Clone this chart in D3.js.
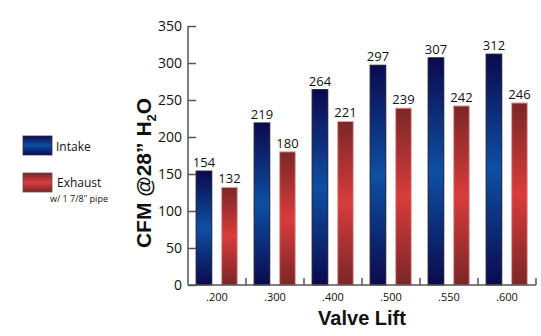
<!DOCTYPE html>
<html>
<head>
<meta charset="utf-8">
<script src="https://cdn.jsdelivr.net/npm/d3@7"></script>
<style>
  body { margin: 0; background: #fff; }
  svg { display: block; }
</style>
</head>
<body>
<div id="chart"></div>
<script>
const lifts = [".200", ".300", ".400", ".500", ".550", ".600"];
const intake = [154, 219, 264, 297, 307, 312];
const exhaust = [132, 180, 221, 239, 242, 246];
const yTicks = [0, 50, 100, 150, 200, 250, 300, 350];

const width = 541, height = 336;
const margin = { left: 188, right: 5, top: 26, bottom: 51 };
const innerW = width - margin.left - margin.right;
const innerH = height - margin.top - margin.bottom;
const axisColor = "#555";
const tickFont = "'Open Sans', sans-serif";

const svg = d3.select("#chart").append("svg")
    .attr("width", width)
    .attr("height", height);

// Gradients
const defs = svg.append("defs");
function addGradient(id, stops) {
    const g = defs.append("linearGradient")
        .attr("id", id)
        .attr("x1", 0).attr("y1", 0).attr("x2", 0).attr("y2", 1);
    stops.forEach(([off, col]) => g.append("stop").attr("offset", off).attr("stop-color", col));
}
addGradient("gradIntake", [[0, "#0b0a4e"], [0.5, "#0e4fa3"], [1, "#0b0a4e"]]);
addGradient("gradExhaust", [[0, "#7b2626"], [0.5, "#d83c3c"], [1, "#7b2626"]]);

const g = svg.append("g").attr("transform", `translate(${margin.left},${margin.top})`);

const x = d3.scaleBand().domain(lifts).range([0, innerW]).padding(0);
const y = d3.scaleLinear().domain([0, 350]).range([innerH, 0]);

const barW = x.bandwidth() * 0.27;
const barOff = x.bandwidth() * 0.14;
const gap = x.bandwidth() * 0.17;

// Bars
const groups = g.selectAll(".grp")
    .data(lifts)
    .enter().append("g")
    .attr("class", "grp")
    .attr("transform", d => `translate(${x(d)},0)`);

groups.append("rect")
    .attr("x", barOff)
    .attr("y", (d, i) => y(intake[i]))
    .attr("width", barW)
    .attr("height", (d, i) => innerH - y(intake[i]))
    .attr("fill", "url(#gradIntake)")
    .attr("stroke", "#1a1a2a")
    .attr("stroke-width", 1);

groups.append("rect")
    .attr("x", barOff + barW + gap)
    .attr("y", (d, i) => y(exhaust[i]))
    .attr("width", barW)
    .attr("height", (d, i) => innerH - y(exhaust[i]))
    .attr("fill", "url(#gradExhaust)")
    .attr("stroke", "#e9a4a4")
    .attr("stroke-width", 1);

// Value labels
groups.append("text")
    .attr("x", barOff + barW / 2)
    .attr("y", (d, i) => y(intake[i]) - 4)
    .attr("text-anchor", "middle")
    .attr("font-family", tickFont)
    .attr("font-size", "13px")
    .attr("fill", "#111")
    .text((d, i) => intake[i]);

groups.append("text")
    .attr("x", barOff + barW * 1.5 + gap)
    .attr("y", (d, i) => y(exhaust[i]) - 4)
    .attr("text-anchor", "middle")
    .attr("font-family", tickFont)
    .attr("font-size", "13px")
    .attr("fill", "#111")
    .text((d, i) => exhaust[i]);

// Y axis (ticks inward)
const yAxis = g.append("g")
    .call(d3.axisRight(y).tickValues(yTicks).tickSize(8).tickFormat(""));
yAxis.select(".domain").attr("stroke", axisColor).attr("stroke-width", 1.5).attr("d", `M0,${innerH}V0`);
yAxis.selectAll(".tick line").attr("stroke", axisColor).attr("stroke-width", 1.5);
g.selectAll(".ylab")
    .data(yTicks)
    .enter().append("text")
    .attr("x", -6)
    .attr("y", d => y(d) + 5)
    .attr("text-anchor", "end")
    .attr("font-family", tickFont)
    .attr("font-size", "14px")
    .attr("fill", "#111")
    .text(d => d);

// X axis: baseline + boundary ticks pointing up
g.append("line")
    .attr("x1", 0).attr("x2", innerW)
    .attr("y1", innerH).attr("y2", innerH)
    .attr("stroke", axisColor).attr("stroke-width", 1.5);
g.selectAll(".xtick")
    .data(lifts)
    .enter().append("line")
    .attr("x1", d => x(d) + x.bandwidth())
    .attr("x2", d => x(d) + x.bandwidth())
    .attr("y1", innerH).attr("y2", innerH - 7)
    .attr("stroke", axisColor).attr("stroke-width", 1.5);
g.selectAll(".xlab")
    .data(lifts)
    .enter().append("text")
    .attr("x", d => x(d) + x.bandwidth() / 2)
    .attr("y", innerH + 16)
    .attr("text-anchor", "middle")
    .attr("font-family", tickFont)
    .attr("font-size", "11px")
    .attr("fill", "#111")
    .text(d => d);

// Axis titles
svg.append("text")
    .attr("x", margin.left + innerW / 2)
    .attr("y", 325)
    .attr("text-anchor", "middle")
    .attr("font-family", "'Liberation Sans', Arial, sans-serif")
    .attr("font-weight", "bold")
    .attr("font-size", "20px")
    .attr("fill", "#111")
    .text("Valve Lift");

const yTitle = svg.append("text")
    .attr("transform", "translate(151,173) rotate(-90)")
    .attr("text-anchor", "middle")
    .attr("font-family", "'Liberation Sans', Arial, sans-serif")
    .attr("font-weight", "bold")
    .attr("font-size", "21px")
    .attr("fill", "#111");
yTitle.append("tspan").text("CFM @28\u201D H");
yTitle.append("tspan").attr("font-size", "13px").attr("dy", 5).text("2");
yTitle.append("tspan").attr("dy", -5).text("O");

// Legend
const legend = svg.append("g");
legend.append("rect")
    .attr("x", 23).attr("y", 136).attr("width", 29).attr("height", 19)
    .attr("fill", "url(#gradIntake)").attr("stroke", "#333").attr("stroke-width", 0.8);
legend.append("text")
    .attr("x", 56).attr("y", 151)
    .attr("font-family", tickFont).attr("font-size", "12px").attr("fill", "#111")
    .text("Intake");
legend.append("rect")
    .attr("x", 23).attr("y", 173).attr("width", 29).attr("height", 19)
    .attr("fill", "url(#gradExhaust)").attr("stroke", "#555").attr("stroke-width", 0.8);
legend.append("text")
    .attr("x", 57).attr("y", 187)
    .attr("font-family", tickFont).attr("font-size", "12px").attr("fill", "#111")
    .text("Exhaust");
legend.append("text")
    .attr("x", 50).attr("y", 202)
    .attr("font-family", tickFont).attr("font-size", "9px").attr("fill", "#111")
    .text("w/ 1 7/8\" pipe");
</script>
</body>
</html>
